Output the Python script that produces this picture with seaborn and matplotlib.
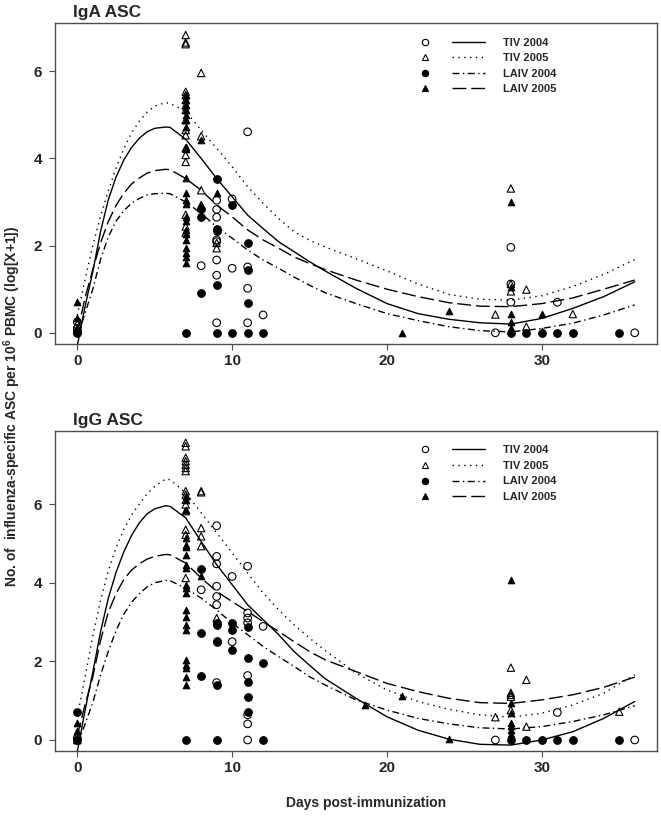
import matplotlib
matplotlib.use("Agg")
import numpy as np
import pandas as pd
import matplotlib.pyplot as plt
from matplotlib.lines import Line2D
from matplotlib.legend_handler import HandlerTuple
import seaborn as sns

groups = ["TIV 2004", "TIV 2005", "LAIV 2004", "LAIV 2005"]

# observed ASC, (day, [values]) pairs, log[X+1]
iga_tiv04 = [(0, [0.25, 0.10]), (8, [1.54]), (9, [3.04, 2.83, 2.65, 2.13, 2.09, 1.67, 1.32, 0.23]),
             (10, [3.07, 1.48]), (11, [4.61, 1.51, 1.02, 0.23]), (12, [0.41]), (27, [0.0]),
             (28, [1.96, 1.12, 0.70]), (31, [0.70]), (36, [0.0])]
iga_tiv05 = [(0, [0.20, 0.05]),
             (7, [6.83, 6.66, 6.62, 5.53, 5.45, 5.34, 5.22, 5.11, 4.88, 4.65, 4.53, 4.23, 4.08, 3.92,
                  2.71, 2.44, 2.30]),
             (8, [5.96, 4.51, 3.27, 2.93]), (9, [2.06, 1.94]), (27, [0.42]), (28, [3.31, 1.12, 0.95]),
             (29, [0.99, 0.14]), (32, [0.43])]
iga_laiv04 = [(0, [0.0, 0.05]), (7, [0.0]), (8, [2.85, 2.66, 0.92]), (9, [3.52, 2.39, 2.34, 1.09, 0.0]),
              (10, [2.93, 0.0]), (11, [2.07, 1.45, 0.69, 0.0]), (12, [0.0]), (28, [0.0]), (29, [0.0]),
              (30, [0.0]), (31, [0.0]), (32, [0.0]), (35, [0.0])]
iga_laiv05 = [(0, [0.71, 0.33, 0.12, 0.03]),
              (7, [5.45, 5.34, 5.22, 5.11, 4.99, 4.88, 4.72, 4.27, 4.21, 3.54, 3.20, 3.04, 2.95, 2.66,
                   2.57, 2.36, 2.26, 2.13, 1.94, 1.82, 1.74, 1.59]),
              (8, [4.42, 2.93]), (9, [3.20]), (21, [0.0]), (24, [0.50]),
              (28, [2.99, 1.04, 0.44, 0.25, 0.10]), (30, [0.43, 0.05])]

igg_tiv04 = [(0, [0.05]), (8, [3.82]), (9, [5.45, 4.67, 4.48, 3.91, 3.65, 3.44, 1.46]), (10, [4.16, 2.50]),
             (11, [4.42, 3.23, 3.10, 2.98, 1.64, 0.64, 0.41, 0.0]), (12, [2.89]), (27, [0.0]),
             (31, [0.70]), (36, [0.0])]
igg_tiv05 = [(0, [0.10, 0.0]),
             (7, [7.56, 7.47, 7.18, 7.09, 7.00, 6.92, 6.84, 6.33, 6.24, 6.11, 5.99, 5.82, 5.35, 5.22, 4.12]),
             (8, [6.33, 6.30, 5.39, 5.18, 4.93]), (9, [3.10]), (27, [0.58]),
             (28, [1.84, 1.20, 1.15, 1.10, 0.76]), (29, [1.53, 0.34]), (35, [0.72])]
igg_laiv04 = [(0, [0.70, 0.0]), (7, [0.0]), (8, [4.35, 2.72, 1.64]), (9, [2.97, 2.93, 2.52, 2.48, 1.39, 0.0]),
              (10, [2.97, 2.80, 2.29]), (11, [2.87, 2.08, 1.47, 1.09, 0.70]), (12, [1.95, 0.0]),
              (28, [0.0]), (29, [0.0]), (30, [0.0]), (31, [0.0]), (32, [0.0]), (35, [0.0])]
igg_laiv05 = [(0, [0.42, 0.23, 0.0]),
              (7, [6.20, 6.11, 5.85, 5.14, 4.97, 4.92, 4.71, 4.46, 4.37, 3.95, 3.86, 3.74, 3.31, 3.14,
                   2.93, 2.80, 2.04, 1.91, 1.83, 1.61, 1.40]),
              (8, [4.16]), (18.6, [0.89]), (21, [1.12]), (24, [0.02]),
              (28, [4.08, 0.93, 0.68, 0.44, 0.35, 0.25, 0.15])]

# fitted curves
curve_days = [0, 0.5, 1, 1.5, 2, 2.5, 3, 3.5, 4, 4.5, 5, 5.7, 6, 7, 8, 9, 10, 11, 12, 13, 14, 15, 16,
              18, 20, 22, 24, 26, 28, 30, 32, 34, 36]
iga_fit_tiv04 = [-0.30, 0.60, 1.40, 2.32, 3.05, 3.57, 3.96, 4.25, 4.46, 4.61, 4.69, 4.72, 4.71, 4.44, 4.00,
                 3.54, 3.12, 2.70, 2.39, 2.09, 1.86, 1.63, 1.42, 1.02, 0.67, 0.44, 0.31, 0.23, 0.20, 0.33,
                 0.56, 0.83, 1.17]
iga_fit_tiv05 = [0.40, 1.21, 2.00, 2.67, 3.25, 3.78, 4.22, 4.58, 4.85, 5.06, 5.20, 5.28, 5.26, 5.08, 4.65,
                 4.23, 3.81, 3.35, 2.97, 2.62, 2.32, 2.12, 1.97, 1.70, 1.42, 1.12, 0.88, 0.77, 0.75, 0.85,
                 1.06, 1.34, 1.68]
iga_fit_laiv04 = [-0.10, 0.45, 1.00, 1.68, 2.20, 2.56, 2.80, 2.97, 3.08, 3.16, 3.19, 3.20, 3.19, 3.00, 2.74,
                  2.43, 2.17, 1.90, 1.67, 1.48, 1.28, 1.09, 0.92, 0.67, 0.44, 0.28, 0.14, 0.05, 0.02, 0.10,
                  0.22, 0.41, 0.64]
iga_fit_laiv05 = [0.00, 0.80, 1.45, 2.06, 2.55, 2.92, 3.20, 3.41, 3.55, 3.66, 3.72, 3.75, 3.74, 3.54, 3.27,
                  2.93, 2.66, 2.36, 2.13, 1.94, 1.74, 1.59, 1.45, 1.21, 1.00, 0.83, 0.69, 0.61, 0.60, 0.67,
                  0.80, 1.00, 1.21]

igg_fit_tiv04 = [-0.30, 0.75, 1.72, 2.75, 3.60, 4.26, 4.78, 5.20, 5.52, 5.75, 5.88, 5.96, 5.94, 5.65, 5.05,
                 4.46, 3.95, 3.44, 3.06, 2.68, 2.25, 1.90, 1.56, 1.06, 0.59, 0.25, 0.02, -0.11, -0.13, 0.00,
                 0.21, 0.55, 0.98]
igg_fit_tiv05 = [0.60, 1.60, 2.65, 3.55, 4.30, 4.89, 5.35, 5.72, 6.00, 6.26, 6.45, 6.64, 6.62, 6.29, 5.78,
                 5.27, 4.76, 4.25, 3.74, 3.31, 2.93, 2.59, 2.28, 1.70, 1.27, 0.98, 0.78, 0.64, 0.58, 0.68,
                 0.89, 1.19, 1.66]
igg_fit_laiv04 = [-0.10, 0.40, 0.95, 1.65, 2.25, 2.78, 3.20, 3.50, 3.72, 3.89, 4.00, 4.06, 4.05, 3.86, 3.61,
                  3.31, 2.97, 2.68, 2.38, 2.12, 1.87, 1.61, 1.40, 1.02, 0.76, 0.55, 0.41, 0.31, 0.28, 0.34,
                  0.47, 0.64, 0.87]
igg_fit_laiv05 = [0.10, 0.90, 1.60, 2.53, 3.25, 3.72, 4.08, 4.32, 4.48, 4.60, 4.67, 4.72, 4.71, 4.50, 4.12,
                  3.78, 3.52, 3.27, 3.01, 2.76, 2.50, 2.25, 2.04, 1.74, 1.44, 1.23, 1.06, 0.95, 0.93, 1.02,
                  1.15, 1.34, 1.60]

x_ticks = [0, 10, 20, 30]
y_ticks = [0, 2, 4, 6]

sns.set_style("white")
plt.rcParams['font.family'] = ['Liberation Sans', 'DejaVu Sans']
plt.rcParams['font.weight'] = 'bold'
plt.rcParams['mathtext.fontset'] = 'custom'
plt.rcParams['mathtext.rm'] = 'Liberation Sans:bold'
plt.rcParams['mathtext.bf'] = 'Liberation Sans:bold'
plt.rcParams['mathtext.it'] = 'Liberation Sans:bold'
plt.rcParams['mathtext.default'] = 'bf'

marker_style = {
    "TIV 2004": dict(marker="o", s=30, fc="none"),
    "TIV 2005": dict(marker="^", s=28, fc="none"),
    "LAIV 2004": dict(marker="o", s=30, fc="black"),
    "LAIV 2005": dict(marker="^", s=22, fc="black"),
}
line_style = {
    "TIV 2004": "-",
    "TIV 2005": (0, (1, 3.2)),
    "LAIV 2004": (0, (5, 2.5, 1, 2.5)),
    "LAIV 2005": (0, (10, 3.5)),
}
frame_col = "#4d4d4d"


def expand(pairs):
    days, vals = [], []
    for d, vs in pairs:
        days += [d] * len(vs)
        vals += vs
    return pd.DataFrame({"day": days, "value": vals})


def draw_panel(ax, points, fits, title, ylim):
    for g in groups:
        st = marker_style[g]
        sns.lineplot(x=curve_days, y=fits[g], ax=ax, color="black", linewidth=1.0,
                     linestyle=line_style[g], errorbar=None, sort=False, legend=False)
        sns.scatterplot(data=expand(points[g]), x="day", y="value", ax=ax, marker=st["marker"],
                        s=st["s"], color="black", facecolor=st["fc"], edgecolor="black",
                        linewidth=0.8, zorder=3, legend=False)
    ax.set_xlim(-1.44, 37.44)
    ax.set_ylim(*ylim)
    ax.set_xticks(x_ticks)
    ax.set_yticks(y_ticks)
    ax.set_xlabel("")
    ax.set_ylabel("")
    ax.tick_params(direction="out", length=4.3, width=0.8, color=frame_col, labelsize=11, pad=3)
    ax.tick_params(axis="x", bottom=True)
    ax.tick_params(axis="y", left=True, pad=5)
    for lab in ax.get_xticklabels() + ax.get_yticklabels():
        lab.set_fontweight("bold")
    for sp in ax.spines.values():
        sp.set_color(frame_col)
        sp.set_linewidth(1.0)
    ax.text(0.03, 1.01, title, transform=ax.transAxes, fontsize=12.5, fontweight="bold",
            ha="left", va="bottom")

    handles = []
    for g in groups:
        st = marker_style[g]
        mk = Line2D([], [], ls="none", marker=st["marker"], markersize=4.6,
                    markerfacecolor=st["fc"], markeredgecolor="black", markeredgewidth=0.8)
        ln = Line2D([], [], color="black", lw=1.0, ls=line_style[g])
        handles.append((mk, ln))
    ax.legend(handles, groups, handler_map={tuple: HandlerTuple(ndivide=None, pad=0.9)},
              handlelength=6.85, handletextpad=1.6, labelspacing=0.5, frameon=False,
              loc="upper left", bbox_to_anchor=(0.58, 0.969), borderaxespad=0,
              prop=dict(size=8, weight="bold"))


fig = plt.figure(figsize=(6.61, 8.25), dpi=100)
ax1 = fig.add_axes([0.0832, 0.5834, 0.9108, 0.3884])
ax2 = fig.add_axes([0.0832, 0.0897, 0.9108, 0.3879])

draw_panel(ax1,
           {"TIV 2004": iga_tiv04, "TIV 2005": iga_tiv05, "LAIV 2004": iga_laiv04, "LAIV 2005": iga_laiv05},
           {"TIV 2004": iga_fit_tiv04, "TIV 2005": iga_fit_tiv05, "LAIV 2004": iga_fit_laiv04,
            "LAIV 2005": iga_fit_laiv05},
           "IgA ASC", (-0.25, 7.1))
draw_panel(ax2,
           {"TIV 2004": igg_tiv04, "TIV 2005": igg_tiv05, "LAIV 2004": igg_laiv04, "LAIV 2005": igg_laiv05},
           {"TIV 2004": igg_fit_tiv04, "TIV 2005": igg_fit_tiv05, "LAIV 2004": igg_fit_laiv04,
            "LAIV 2005": igg_fit_laiv05},
           "IgG ASC", (-0.28, 7.86))

fig.text(0.019, 0.507, "No. of  influenza-specific ASC per 10$^{6}$ PBMC (log[X+1])",
         rotation=90, ha="center", va="center", fontsize=10, fontweight="bold")
fig.text(0.554, 0.027, "Days post-immunization", ha="center", va="center", fontsize=10,
         fontweight="bold")

fig.savefig("out.png", dpi=100)
